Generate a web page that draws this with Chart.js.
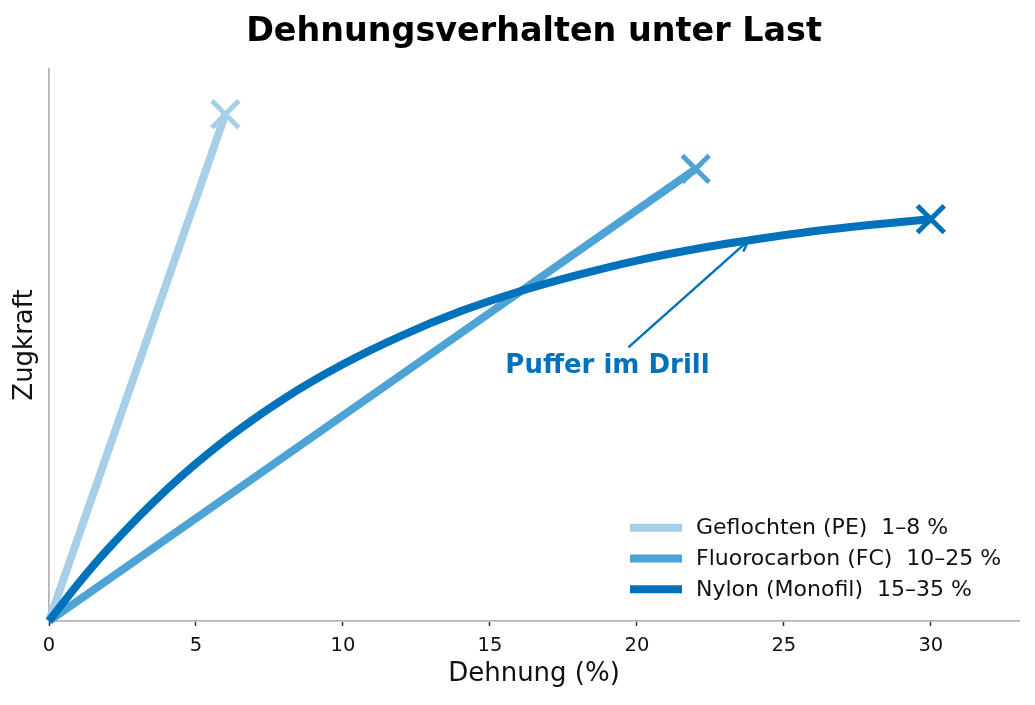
<!DOCTYPE html>
<html>
<head>
<meta charset="utf-8">
<script src="https://cdn.jsdelivr.net/npm/chart.js@4.4.1/dist/chart.umd.min.js"></script>
<style>
  html, body { margin: 0; padding: 0; background: #fff; }
  #wrap { width: 1035px; height: 705px; }
</style>
</head>
<body>
<div id="wrap"><canvas id="chart"></canvas></div>
<script>
// values (y is relative pull force, 0..1)
const seriesNames = ['Geflochten (PE)  1–8 %', 'Fluorocarbon (FC)  10–25 %', 'Nylon (Monofil)  15–35 %'];
const seriesColors = ['#a8cfe8', '#4da2d6', '#0072bc'];

const geflX = [0, 6];
const geflY = [0, 0.918];

const fcX = [0, 22];
const fcY = [0, 0.819];

const nylonX = [0, 1, 2, 4, 6, 8, 10, 12, 14, 16, 18, 20, 22, 24, 26, 28, 30];
const nylonY = [0, 0.068, 0.13, 0.238, 0.328, 0.403, 0.465, 0.517, 0.561, 0.597, 0.627, 0.653, 0.674, 0.691, 0.706, 0.718, 0.728];

const xTicks = [0, 5, 10, 15, 20, 25, 30];

const titleText = 'Dehnungsverhalten unter Last';
const annoText = 'Puffer im Drill';
const annoTextAt = [19.0, 0.449];   // centre / baseline of the label
const annoTail = [19.74, 0.497];
const annoTip = [23.79, 0.689];

const FONT = "'DejaVu Sans', sans-serif";

const toPoints = (xs, ys) => xs.map((x, i) => ({ x: x, y: ys[i] }));

function lineSet(i, xs, ys, order) {
  return {
    label: seriesNames[i],
    data: toPoints(xs, ys),
    borderColor: seriesColors[i],
    backgroundColor: seriesColors[i],
    borderWidth: 8,
    borderCapStyle: 'butt',
    cubicInterpolationMode: 'monotone',
    pointStyle: 'crossRot',
    pointRadius: ctx => (ctx.dataIndex === ys.length - 1 ? 19 : 0),
    pointHoverRadius: ctx => (ctx.dataIndex === ys.length - 1 ? 19 : 0),
    pointBorderWidth: 5,
    pointBorderColor: seriesColors[i],
    clip: false,
    order: order
  };
}

// title centred over the plot area, legend bottom right inside the plot
const decorations = {
  id: 'decorations',
  afterDraw(chart) {
    const { ctx, chartArea } = chart;
    ctx.save();
    ctx.fillStyle = '#000';
    ctx.font = 'bold 33.4px ' + FONT;
    ctx.textAlign = 'center';
    ctx.textBaseline = 'alphabetic';
    ctx.fillText(titleText, (chartArea.left + chartArea.right) / 2, 41);

    const x0 = chartArea.right - 389;
    ctx.font = '22px ' + FONT;
    ctx.textBaseline = 'middle';
    ctx.textAlign = 'left';
    seriesNames.forEach((name, i) => {
      const y = chartArea.bottom - 93.3 + i * 30.8;
      ctx.strokeStyle = seriesColors[i];
      ctx.lineWidth = 8;
      ctx.beginPath();
      ctx.moveTo(x0, y);
      ctx.lineTo(x0 + 52, y);
      ctx.stroke();
      ctx.fillStyle = '#111';
      ctx.fillText(name, x0 + 66, y + 1);
    });
    ctx.restore();
  }
};

// "Puffer im Drill" label with arrow
const annotation = {
  id: 'annotation',
  afterDatasetsDraw(chart) {
    const { ctx, scales } = chart;
    const px = p => [scales.x.getPixelForValue(p[0]), scales.y.getPixelForValue(p[1])];
    const t = px(annoTextAt), a = px(annoTail), b = px(annoTip);
    ctx.save();
    ctx.fillStyle = seriesColors[2];
    ctx.font = 'bold 26px ' + FONT;
    ctx.textAlign = 'center';
    ctx.textBaseline = 'alphabetic';
    ctx.fillText(annoText, t[0], t[1]);

    ctx.strokeStyle = seriesColors[2];
    ctx.lineWidth = 2.5;
    ctx.lineCap = 'round';
    ctx.beginPath();
    ctx.moveTo(a[0], a[1]);
    ctx.lineTo(b[0], b[1]);
    const ang = Math.atan2(b[1] - a[1], b[0] - a[0]);
    const hl = 11, hw = 0.42;
    ctx.moveTo(b[0] - hl * Math.cos(ang - hw), b[1] - hl * Math.sin(ang - hw));
    ctx.lineTo(b[0], b[1]);
    ctx.lineTo(b[0] - hl * Math.cos(ang + hw), b[1] - hl * Math.sin(ang + hw));
    ctx.stroke();
    ctx.restore();
  }
};

new Chart(document.getElementById('chart'), {
  type: 'line',
  data: {
    datasets: [
      lineSet(0, geflX, geflY, 3),
      lineSet(1, fcX, fcY, 2),
      lineSet(2, nylonX, nylonY, 1)
    ]
  },
  options: {
    responsive: true,
    maintainAspectRatio: false,
    animation: false,
    layout: { autoPadding: false, padding: { left: 0, right: 16, top: 69, bottom: 0 } },
    plugins: {
      legend: { display: false },
      tooltip: { enabled: false },
      title: { display: false }
    },
    scales: {
      x: {
        type: 'linear',
        min: 0,
        max: 33,
        afterBuildTicks: s => { s.ticks = xTicks.map(v => ({ value: v })); },
        afterFit: s => { s.height = 84; s.paddingLeft = 0; s.paddingRight = 0; },
        grid: { display: true, drawOnChartArea: false, drawTicks: true, tickLength: 5, tickWidth: 1.5, tickColor: '#333' },
        border: { display: true, color: '#b5b5b5', width: 1.8 },
        ticks: { color: '#111', font: { family: FONT, size: 19.5 }, padding: 8, maxRotation: 0 },
        title: {
          display: true,
          text: 'Dehnung (%)',
          color: '#111',
          font: { family: FONT, size: 26 },
          padding: { top: 0, bottom: 15 }
        }
      },
      y: {
        type: 'linear',
        min: 0,
        max: 1,
        afterFit: s => { s.width = 49; s.paddingTop = 0; s.paddingBottom = 0; },
        grid: { display: false },
        border: { display: true, color: '#b5b5b5', width: 1.8 },
        ticks: { display: false },
        title: {
          display: true,
          text: 'Zugkraft',
          color: '#111',
          font: { family: FONT, size: 26 },
          padding: { top: 10, bottom: 0 }
        }
      }
    }
  },
  plugins: [decorations, annotation]
});
</script>
</body>
</html>
